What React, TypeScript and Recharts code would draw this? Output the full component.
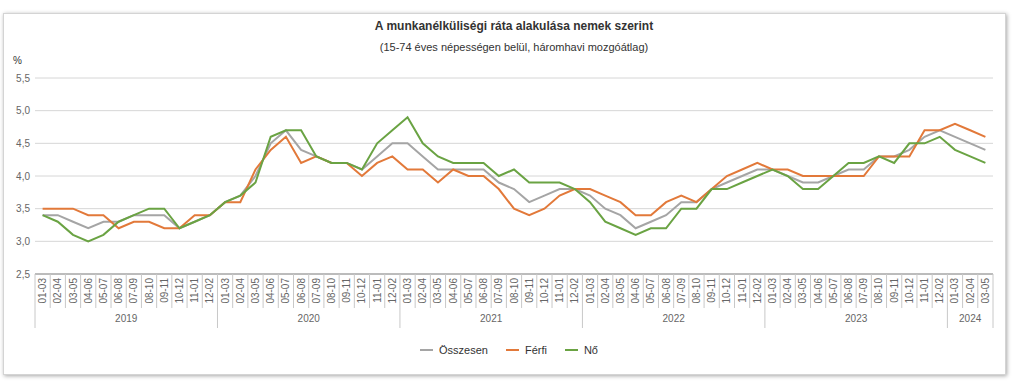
import React from "react";
import { LineChart, Line, XAxis, YAxis, CartesianGrid } from "recharts";

const years = ["2019", "2020", "2021", "2022", "2023", "2024"];
const periods = ["01-03", "02-04", "03-05", "04-06", "05-07", "06-08", "07-09", "08-10", "09-11", "10-12", "11-01", "12-02"];
const periodsPerYear = [12, 12, 12, 12, 12, 3];

const osszesen = [
  3.4, 3.4, 3.3, 3.2, 3.3, 3.3, 3.4, 3.4, 3.4, 3.2, 3.3, 3.4,
  3.6, 3.7, 4.0, 4.5, 4.7, 4.4, 4.3, 4.2, 4.2, 4.1, 4.3, 4.5,
  4.5, 4.3, 4.1, 4.1, 4.1, 4.1, 3.9, 3.8, 3.6, 3.7, 3.8, 3.8,
  3.7, 3.5, 3.4, 3.2, 3.3, 3.4, 3.6, 3.6, 3.8, 3.9, 4.0, 4.1,
  4.1, 4.0, 3.9, 3.9, 4.0, 4.1, 4.1, 4.3, 4.3, 4.4, 4.6, 4.7,
  4.6, 4.5, 4.4,
];
const ferfi = [
  3.5, 3.5, 3.5, 3.4, 3.4, 3.2, 3.3, 3.3, 3.2, 3.2, 3.4, 3.4,
  3.6, 3.6, 4.1, 4.4, 4.6, 4.2, 4.3, 4.2, 4.2, 4.0, 4.2, 4.3,
  4.1, 4.1, 3.9, 4.1, 4.0, 4.0, 3.8, 3.5, 3.4, 3.5, 3.7, 3.8,
  3.8, 3.7, 3.6, 3.4, 3.4, 3.6, 3.7, 3.6, 3.8, 4.0, 4.1, 4.2,
  4.1, 4.1, 4.0, 4.0, 4.0, 4.0, 4.0, 4.3, 4.3, 4.3, 4.7, 4.7,
  4.8, 4.7, 4.6,
];
const no = [
  3.4, 3.3, 3.1, 3.0, 3.1, 3.3, 3.4, 3.5, 3.5, 3.2, 3.3, 3.4,
  3.6, 3.7, 3.9, 4.6, 4.7, 4.7, 4.3, 4.2, 4.2, 4.1, 4.5, 4.7,
  4.9, 4.5, 4.3, 4.2, 4.2, 4.2, 4.0, 4.1, 3.9, 3.9, 3.9, 3.8,
  3.6, 3.3, 3.2, 3.1, 3.2, 3.2, 3.5, 3.5, 3.8, 3.8, 3.9, 4.0,
  4.1, 4.0, 3.8, 3.8, 4.0, 4.2, 4.2, 4.3, 4.2, 4.5, 4.5, 4.6,
  4.4, 4.3, 4.2,
];
const yTicks = [2.5, 3.0, 3.5, 4.0, 4.5, 5.0, 5.5];

const series = [
  { key: "osszesen", name: "Összesen", color: "#a5a5a5" },
  { key: "ferfi", name: "Férfi", color: "#e2793a" },
  { key: "no", name: "Nő", color: "#6aa343" },
];

type Row = { id: string; period: string; year: string; pos: number; count: number; osszesen: number; ferfi: number; no: number };
const data: Row[] = [];
years.forEach((year, yi) => {
  for (let p = 0; p < periodsPerYear[yi]; p++) {
    const i = data.length;
    data.push({
      id: `${year} ${periods[p]}`,
      period: periods[p],
      year,
      pos: p,
      count: periodsPerYear[yi],
      osszesen: osszesen[i],
      ferfi: ferfi[i],
      no: no[i],
    });
  }
});

const W = 1028;
const H = 386;
const margin = { top: 78, right: 35, left: 0, bottom: 56 };
const Y_W = 35;
const band = (W - margin.left - margin.right - Y_W) / data.length;
const font = "'Liberation Sans', Arial, sans-serif";

const PeriodTick = (props: any) => {
  const { x, y, payload } = props;
  const row = data[payload.index];
  if (!row) return null;
  const half = band / 2;
  const lineColor = "#c8c8c8";
  const mid = (row.count - 1) / 2;
  const labelAt = Math.floor(mid);
  const isLast = payload.index === data.length - 1;
  return (
    <g>
      <line x1={x - half} x2={x - half} y1={y} y2={row.pos === 0 ? y + 54 : y + 34} stroke={lineColor} />
      {isLast && <line x1={x + half} x2={x + half} y1={y} y2={y + 54} stroke={lineColor} />}
      <text
        transform={`translate(${x + 3.5},${y + 4}) rotate(-90)`}
        textAnchor="end"
        fontSize={10}
        fill="#666"
        fontFamily={font}
      >
        {row.period}
      </text>
      {row.pos === labelAt && (
        <text x={x + (mid - labelAt) * band} y={y + 48} textAnchor="middle" fontSize={10} fill="#666" fontFamily={font}>
          {row.year}
        </text>
      )}
    </g>
  );
};

export default function App() {
  return (
    <div style={{ position: "absolute", left: 0, top: 0, width: W, height: H, background: "#fff", fontFamily: font }}>
      <div
        style={{
          position: "absolute",
          left: 3,
          top: 13,
          width: 1001,
          height: 360,
          border: "1px solid #d4d4d4",
          boxShadow: "1px 1px 4px rgba(0,0,0,0.35)",
        }}
      />
      <div style={{ position: "absolute", left: 0, width: W, top: 19, textAlign: "center", fontSize: 12, fontWeight: "bold", color: "#333" }}>
        A munkanélküliségi ráta alakulása nemek szerint
      </div>
      <div style={{ position: "absolute", left: 0, width: W, top: 41, textAlign: "center", fontSize: 11, color: "#333" }}>
        (15-74 éves népességen belül, háromhavi mozgóátlag)
      </div>
      <div style={{ position: "absolute", left: 13, top: 55, fontSize: 10, color: "#333" }}>%</div>
      <div style={{ position: "absolute", left: 0, top: 0 }}>
        <LineChart width={W} height={H} data={data} margin={margin}>
          <CartesianGrid vertical={false} stroke="#d6d6d6" />
          <XAxis
            dataKey="id"
            interval={0}
            padding={{ left: band / 2, right: band / 2 }}
            tickLine={false}
            tickSize={0}
            tickMargin={0}
            height={56}
            axisLine={{ stroke: "#8c8c8c" }}
            tick={<PeriodTick />}
          />
          <YAxis
            width={Y_W}
            domain={[2.5, 5.5]}
            ticks={yTicks}
            tickLine={false}
            axisLine={false}
            tickSize={0}
            tickMargin={5}
            tick={{ fontSize: 10, fill: "#666", fontFamily: font }}
            tickFormatter={(v: number) => v.toFixed(1).replace(".", ",")}
          />
          {series.map((s) => (
            <Line
              key={s.key}
              type="linear"
              dataKey={s.key}
              name={s.name}
              stroke={s.color}
              strokeWidth={2}
              dot={false}
              isAnimationActive={false}
            />
          ))}
        </LineChart>
      </div>
      <div
        style={{
          position: "absolute",
          left: 0,
          width: W,
          top: 344,
          display: "flex",
          justifyContent: "center",
          gap: 18,
          fontSize: 11,
          color: "#333",
          paddingRight: 10,
          boxSizing: "border-box",
        }}
      >
        {series.map((s) => (
          <div key={s.key} style={{ display: "flex", alignItems: "center" }}>
            <span style={{ display: "inline-block", width: 13, height: 2, background: s.color, marginRight: 6 }} />
            <span>{s.name}</span>
          </div>
        ))}
      </div>
    </div>
  );
}
